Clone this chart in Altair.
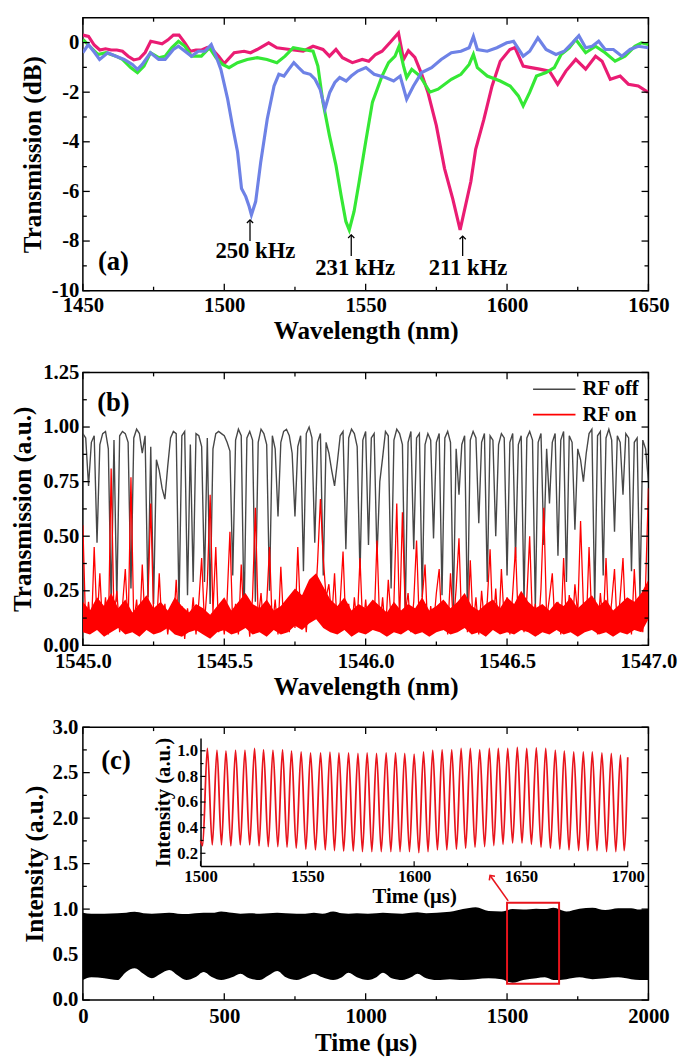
import altair as alt
import numpy as np
import pandas as pd

FONT = "Liberation Serif"
W, H = 574, 277

# ---------------- panel (a): transmission spectra ----------------
A_PINK = [(1450.0,0.30),(1452.0,0.25),(1454.0,-0.10),(1456.0,-0.30),(1458.0,-0.25),(1460.0,-0.30),
          (1462.0,-0.30),(1464.0,-0.35),(1466.0,-0.55),(1468.0,-0.70),(1470.0,-0.65),(1472.0,-0.40),
          (1474.0,0.05),(1476.0,0.00),(1478.0,-0.05),(1480.0,0.10),(1482.0,0.30),(1484.0,0.30),
          (1486.0,0.00),(1488.0,-0.35),(1490.0,-0.30),(1492.0,-0.30),(1494.0,-0.20),(1496.0,-0.30),
          (1498.0,-0.55),(1500.0,-0.85),(1503.5,-0.41),(1507.0,-0.35),(1509.3,-0.41),(1511.6,-0.28),
          (1515.7,-0.01),(1518.6,-0.21),(1523.2,-0.28),(1527.9,-0.35),(1531.4,-0.15),(1534.9,-0.28),
          (1537.2,-0.55),(1539.5,-0.28),(1541.8,-0.61),(1545.3,-0.81),(1548.8,-0.68),(1551.1,-0.75),
          (1553.5,-0.48),(1555.8,-0.35),(1558.7,0.01),(1561.6,0.39),(1563.4,-0.68),(1565.1,-0.33),
          (1567.4,-0.60),(1569.8,-1.27),(1572.0,-2.00),(1575.0,-3.35),(1577.9,-5.08),(1580.8,-6.30),
          (1583.4,-7.55),(1587.2,-5.60),(1588.9,-4.30),(1591.8,-3.10),(1594.7,-1.75),(1597.6,-0.75),
          (1601.0,-0.28),(1602.8,-0.20),(1605.7,-0.95),(1608.0,-1.00),(1611.5,-1.07),(1615.0,-1.15),
          (1617.9,-1.68),(1620.8,-1.15),(1624.3,-0.68),(1627.8,-1.07),(1631.3,-0.55),(1633.6,-0.75),
          (1636.5,-1.48),(1640.0,-1.35),(1642.9,-1.68),(1646.4,-1.75),(1649.9,-2.01)]
A_GREEN = [(1450.1,0.12),(1452.4,-0.15),(1455.3,-0.48),(1458.2,-0.41),(1461.7,-0.55),(1464.0,-0.68),
           (1466.9,-1.01),(1469.3,-1.21),(1471.6,-0.95),(1473.9,-0.41),(1476.8,-0.61),(1479.1,-0.55),
           (1481.4,-0.21),(1483.8,0.05),(1486.1,-0.15),(1488.4,-0.55),(1491.9,-0.55),(1494.8,-0.21),
           (1497.1,-0.61),(1499.4,-0.88),(1501.7,-1.01),(1504.7,-0.81),(1508.1,-0.68),(1511.6,-0.61),
           (1515.1,-0.68),(1518.6,-0.81),(1521.5,-0.55),(1524.4,-0.21),(1527.9,-0.28),(1531.4,-0.35),
           (1533.1,-0.95),(1534.9,-2.41),(1537.2,-3.75),(1539.5,-4.95),(1541.3,-6.15),(1543.0,-7.21),
           (1544.2,-7.55),(1545.9,-6.81),(1547.7,-5.61),(1550.0,-4.01),(1552.4,-2.40),(1555.8,-1.35),
           (1558.1,-0.81),(1560.4,-0.55),(1561.8,-0.15),(1563.4,-0.95),(1564.5,-1.41),(1566.3,-1.08),
           (1569.2,-1.35),(1572.7,-2.00),(1575.6,-1.88),(1580.3,-1.48),(1583.7,-1.28),(1586.6,-0.88),
           (1588.1,-0.48),(1589.5,-1.01),(1593.0,-1.35),(1597.6,-1.55),(1601.1,-1.75),(1604.0,-2.15),
           (1605.7,-2.55),(1608.0,-2.01),(1610.4,-1.35),(1613.8,-1.21),(1616.7,-1.01),(1619.1,-0.48),
           (1622.0,-0.21),(1624.3,0.12),(1627.8,-0.41),(1631.3,-0.15),(1634.7,-0.41),(1638.2,-0.75),
           (1641.7,-0.55),(1645.2,-0.15),(1647.5,-0.01),(1650.0,-0.08)]
A_BLUE = [(1450.0,-0.41),(1451.9,-0.08),(1454.2,-0.41),(1455.9,-0.68),(1458.8,-0.41),(1461.7,-0.55),
          (1464.6,-0.68),(1467.5,-0.88),(1469.3,-1.08),(1471.0,-0.88),(1473.9,-0.41),(1476.8,-0.68),
          (1479.1,-0.68),(1482.0,-0.28),(1483.8,-0.15),(1486.1,-0.35),(1488.4,-0.55),(1490.8,-0.35),
          (1493.1,-0.35),(1495.4,-0.08),(1497.1,-0.55),(1498.8,-1.08),(1501.2,-2.28),(1502.9,-3.35),
          (1504.7,-4.41),(1506.1,-5.88),(1507.6,-6.21),(1508.8,-6.61),(1509.6,-6.95),(1511.1,-6.41),
          (1512.9,-4.81),(1515.2,-3.08),(1517.6,-1.75),(1519.3,-1.28),(1521.1,-1.35),(1522.8,-1.08),
          (1524.6,-0.81),(1526.3,-1.01),(1528.1,-1.21),(1530.4,-1.28),(1532.1,-1.48),(1533.9,-1.88),
          (1535.6,-2.68),(1537.3,-2.01),(1539.1,-1.61),(1540.8,-1.41),(1543.1,-1.55),(1544.9,-1.35),
          (1547.2,-1.15),(1550.1,-1.01),(1553.0,-1.28),(1557.0,-1.41),(1559.9,-1.55),(1562.2,-1.35),
          (1564.5,-2.28),(1566.9,-1.75),(1569.8,-1.21),(1573.3,-1.01),(1576.7,-0.68),(1580.3,-0.41),
          (1583.7,-0.35),(1586.6,-0.21),(1588.1,0.25),(1589.5,-0.28),(1593.0,-0.35),(1596.4,-0.21),
          (1599.9,-0.01),(1602.3,0.05),(1605.7,-0.55),(1608.0,-0.35),(1610.9,0.19),(1613.8,-0.28),
          (1617.3,-0.48),(1620.2,-0.35),(1623.1,-0.01),(1625.4,0.28),(1627.8,-0.21),(1630.1,-0.15),
          (1632.4,0.05),(1634.7,-0.28),(1637.6,-0.28),(1640.6,-0.55),(1643.5,-0.28),(1646.4,-0.15),
          (1650.0,-0.21)]
A_ARROW_X = [1509.1, 1544.9, 1584.3]
A_ARROW_TIP = [-7.15, -7.75, -7.80]
A_ARROW_TAIL = [-8.00, -8.60, -8.60]
A_LABEL_X = [1511.0, 1546.3, 1586.2]
A_LABEL_Y = [-8.41, -9.08, -9.08]
A_LABELS = ["250 kHz", "231 kHz", "211 kHz"]
A_XMAJ = [1450, 1500, 1550, 1600, 1650]
A_XMIN = [1475, 1525, 1575, 1625]
A_YMAJ = [-10, -8, -6, -4, -2, 0]
A_YMIN = [-9, -7, -5, -3, -1]

# ---------------- panel (b): RF off / RF on ----------------
B_START, B_STEP = 1545.0, 0.01   # sampling grid of the traces
B_OFF = [0.97, 0.95, 0.73, 0.93, 0.96, 0.47, 0.92, 0.97, 0.98, 0.90,
         0.19, 0.94, 0.20, 0.96, 0.98, 0.97, 0.93, 0.26, 0.95, 0.99,
         0.97, 0.88, 0.96, 0.22, 0.91, 0.19, 0.85, 0.80, 0.72, 0.67,
         0.82, 0.95, 0.98, 0.97, 0.17, 0.96, 0.98, 0.23, 0.92, 0.29,
         0.97, 0.96, 0.91, 0.29, 0.95, 0.19, 0.90, 0.97, 0.98, 0.97,
         0.96, 0.93, 0.89, 0.32, 0.94, 0.99, 0.96, 0.13, 0.95, 0.98,
         0.94, 0.20, 0.93, 0.99, 0.97, 0.92, 0.25, 0.96, 0.90, 0.59,
         0.93, 0.98, 0.99, 0.96, 0.88, 0.59, 0.91, 0.96, 0.34, 0.97,
         1.00, 0.95, 0.47, 0.93, 0.97, 0.32, 0.93, 0.88, 0.80, 0.73,
         0.84, 0.96, 0.98, 0.44, 0.95, 0.99, 0.97, 0.91, 0.32, 0.94,
         0.98, 0.46, 0.95, 0.97, 0.40, 0.75, 0.86, 0.98, 0.96, 0.26,
         0.94, 0.99, 0.97, 0.92, 0.14, 0.93, 0.98, 0.44, 0.95, 0.97,
         0.22, 0.92, 0.97, 0.94, 0.49, 0.93, 0.97, 0.23, 0.95, 0.98,
         0.93, 0.16, 0.90, 0.69, 0.92, 0.96, 0.13, 0.94, 0.98, 0.95,
         0.56, 0.93, 0.97, 0.29, 0.96, 0.94, 0.50, 0.92, 0.97, 0.95,
         0.32, 0.93, 0.97, 0.40, 0.92, 0.96, 0.20, 0.95, 0.98, 0.94,
         0.17, 0.93, 0.97, 0.46, 0.90, 0.65, 0.93, 0.97, 0.41, 0.94,
         0.98, 0.29, 0.96, 0.93, 0.53, 0.90, 0.85, 0.75, 0.88, 0.97,
         0.99, 0.19, 0.96, 0.98, 0.32, 0.95, 0.99, 0.94, 0.52, 0.96,
         0.93, 0.69, 0.97, 0.95, 0.34, 0.93, 0.95, 0.22, 0.94, 0.90,
         0.75]
B_ON = [0.55, 0.08, 0.20, 0.06, 0.45, 0.10, 0.33, 0.07, 0.22, 0.05,
        0.81, 0.12, 0.25, 0.06, 0.18, 0.35, 0.08, 0.77, 0.10, 0.21,
        0.05, 0.37, 0.09, 0.20, 0.65, 0.14, 0.06, 0.33, 0.07, 0.19,
        0.05, 0.16, 0.08, 0.30, 0.06, 0.18, 0.03, 0.17, 0.07, 0.22,
        0.05, 0.20, 0.40, 0.10, 0.28, 0.69, 0.15, 0.45, 0.06, 0.18,
        0.05, 0.21, 0.52, 0.08, 0.19, 0.05, 0.37, 0.09, 0.20, 0.04,
        0.22, 0.63, 0.12, 0.24, 0.07, 0.19, 0.45, 0.08, 0.21, 0.05,
        0.36, 0.10, 0.18, 0.06, 0.23, 0.08, 0.45, 0.12, 0.20, 0.06,
        0.25, 0.30, 0.15, 0.38, 0.67, 0.40, 0.22, 0.28, 0.12, 0.33,
        0.06, 0.20, 0.43, 0.08, 0.19, 0.05, 0.22, 0.09, 0.40, 0.07,
        0.21, 0.06, 0.18, 0.10, 0.48, 0.08, 0.22, 0.05, 0.30, 0.12,
        0.20, 0.65, 0.10, 0.61, 0.15, 0.24, 0.06, 0.20, 0.48, 0.08,
        0.22, 0.37, 0.05, 0.18, 0.09, 0.24, 0.35, 0.07, 0.20, 0.05,
        0.33, 0.10, 0.26, 0.49, 0.08, 0.21, 0.06, 0.39, 0.09, 0.22,
        0.05, 0.25, 0.10, 0.20, 0.44, 0.08, 0.26, 0.06, 0.35, 0.11,
        0.22, 0.05, 0.24, 0.45, 0.09, 0.20, 0.06, 0.22, 0.50, 0.10,
        0.19, 0.05, 0.26, 0.63, 0.12, 0.22, 0.33, 0.07, 0.20, 0.05,
        0.40, 0.09, 0.23, 0.06, 0.28, 0.14, 0.57, 0.18, 0.08, 0.45,
        0.10, 0.21, 0.05, 0.24, 0.09, 0.40, 0.07, 0.20, 0.35, 0.06,
        0.22, 0.40, 0.08, 0.19, 0.05, 0.35, 0.10, 0.21, 0.06, 0.28,
        0.72]
# dense noise floor of the RF-on trace, read every 0.025 nm (lower / upper edge)
B_BAND_STEP = 0.025
B_BAND_LO = [0.06, 0.05, 0.07, 0.04, 0.06, 0.08, 0.05, 0.06, 0.04, 0.07,
             0.05, 0.06, 0.08, 0.05, 0.04, 0.06, 0.07, 0.05, 0.03, 0.06,
             0.07, 0.05, 0.06, 0.08, 0.05, 0.06, 0.04, 0.07, 0.05, 0.06,
             0.09, 0.07, 0.10, 0.12, 0.08, 0.06, 0.05, 0.07, 0.04, 0.06,
             0.05, 0.07, 0.06, 0.04, 0.06, 0.05, 0.07, 0.05, 0.06, 0.04,
             0.06, 0.07, 0.05, 0.06, 0.08, 0.05, 0.06, 0.04, 0.07, 0.05,
             0.06, 0.05, 0.07, 0.06, 0.04, 0.06, 0.05, 0.07, 0.05, 0.06,
             0.04, 0.06, 0.07, 0.05, 0.06, 0.04, 0.06, 0.05, 0.07, 0.06,
             0.12]
B_BAND_HI = [0.20, 0.16, 0.22, 0.18, 0.24, 0.17, 0.21, 0.15, 0.19, 0.23,
             0.17, 0.20, 0.16, 0.22, 0.18, 0.15, 0.19, 0.17, 0.14, 0.18,
             0.22, 0.16, 0.20, 0.24, 0.19, 0.17, 0.21, 0.16, 0.18, 0.22,
             0.26, 0.23, 0.30, 0.33, 0.27, 0.21, 0.18, 0.22, 0.16, 0.19,
             0.17, 0.21, 0.18, 0.15, 0.20, 0.16, 0.19, 0.17, 0.22, 0.16,
             0.18, 0.21, 0.17, 0.20, 0.24, 0.18, 0.16, 0.19, 0.21, 0.17,
             0.22, 0.19, 0.25, 0.20, 0.17, 0.19, 0.16, 0.20, 0.18, 0.22,
             0.17, 0.20, 0.23, 0.18, 0.21, 0.16, 0.19, 0.22, 0.20, 0.24,
             0.30]
B_LEG_X = [1546.592, 1546.742]
B_LEG_TEXT_X = 1546.767
B_LEG_Y = [1.173, 1.057]
B_LEG_LABELS = ["RF off", "RF on"]
B_XMAJ = [1545.0, 1545.5, 1546.0, 1546.5, 1547.0]
B_XMIN = [1545.25, 1545.75, 1546.25, 1546.75]
B_YMAJ = [0.0, 0.25, 0.5, 0.75, 1.0, 1.25]
B_YMIN = [0.125, 0.375, 0.625, 0.875, 1.125]

# ---------------- panel (c): time trace + inset ----------------
C_T = [0, 30, 76, 122, 153, 183, 214, 244, 275, 305, 336, 366, 397, 427, 458, 489, 527, 557, 588,
       626, 656, 687, 718, 756, 786, 817, 847, 885, 916, 939, 969, 1008, 1038, 1061, 1092, 1130,
       1160, 1183, 1214, 1252, 1298, 1344, 1389, 1435, 1481, 1519, 1557, 1603, 1634, 1664, 1710,
       1756, 1802, 1847, 1893, 1939, 1969, 2000]
C_LO = [0.22, 0.25, 0.24, 0.22, 0.31, 0.35, 0.29, 0.24, 0.29, 0.33, 0.27, 0.22, 0.25, 0.31, 0.25,
        0.22, 0.25, 0.29, 0.24, 0.22, 0.27, 0.32, 0.25, 0.22, 0.25, 0.29, 0.25, 0.22, 0.25, 0.30,
        0.25, 0.22, 0.25, 0.30, 0.24, 0.22, 0.25, 0.29, 0.24, 0.22, 0.23, 0.22, 0.23, 0.24, 0.23,
        0.19, 0.22, 0.24, 0.25, 0.22, 0.23, 0.25, 0.23, 0.24, 0.25, 0.23, 0.22, 0.22]
C_HI = [0.96, 0.95, 0.95, 0.955, 0.96, 0.97, 0.955, 0.95, 0.955, 0.96, 0.95, 0.945, 0.955, 0.96,
        0.96, 0.975, 0.96, 0.95, 0.955, 0.95, 0.955, 0.96, 0.955, 0.95, 0.95, 0.96, 0.95, 0.975,
        0.955, 0.95, 0.955, 0.95, 0.955, 0.96, 0.955, 0.95, 0.96, 0.965, 0.955, 0.96, 0.97, 1.0,
        1.02, 0.98, 0.975, 1.0, 0.995, 1.005, 1.0, 1.015, 0.975, 1.005, 1.015, 0.99, 1.01, 1.01,
        0.995, 1.0]
C_BOX_T = [1500, 1684]
C_BOX_V = [0.18, 1.07]
C_ARROW_T = [1504, 1440]
C_ARROW_V = [1.09, 1.37]
C_XMAJ = [0, 500, 1000, 1500, 2000]
C_XMIN = [250, 750, 1250, 1750]
C_YMAJ = [0.0, 0.5, 1.0, 1.5, 2.0, 2.5, 3.0]
C_YMIN = [0.25, 0.75, 1.25, 1.75, 2.25, 2.75]

I_START = (1500.0, 0.30)
I_END = (1700.0, 0.95)
I_PEAK_T = [1503.2, 1507.7, 1511.9, 1516.4, 1520.8, 1525.3, 1529.5, 1533.9, 1538.4, 1542.6, 1547.1,
            1551.5, 1556.2, 1560.6, 1564.8, 1569.3, 1573.7, 1578.0, 1582.4, 1586.9, 1591.3, 1595.6,
            1600.0, 1604.4, 1608.7, 1613.1, 1617.6, 1622.0, 1626.3, 1630.7, 1635.2, 1639.4, 1643.8,
            1648.3, 1652.7, 1657.2, 1661.6, 1666.1, 1670.3, 1674.7, 1679.2, 1683.4, 1687.9, 1692.3,
            1696.6]
I_PEAK_V = [1.018, 1.005, 1.0, 1.005, 1.005, 1.018, 1.01, 1.005, 1.01, 1.0, 0.992, 0.984, 0.984, 0.99,
            0.984, 0.984, 0.979, 0.984, 0.979, 0.984, 0.984, 0.979, 0.974, 0.992, 1.005, 1.01, 1.01,
            1.018, 1.018, 1.01, 1.018, 1.018, 1.018, 1.026, 1.018, 1.023, 1.018, 1.005, 1.0, 0.992,
            0.992, 0.992, 0.984, 0.979, 0.966]
I_TROUGH_T = [1501.0, 1505.5, 1509.8, 1514.2, 1518.6, 1523.0, 1527.4, 1531.7, 1536.2, 1540.5, 1544.8,
              1549.3, 1553.8, 1558.4, 1562.7, 1567.0, 1571.5, 1575.8, 1580.2, 1584.6, 1589.1, 1593.4,
              1597.8, 1602.2, 1606.5, 1610.9, 1615.3, 1619.8, 1624.1, 1628.5, 1633.0, 1637.3, 1641.6,
              1646.1, 1650.5, 1654.9, 1659.4, 1663.8, 1668.2, 1672.5, 1677.0, 1681.3, 1685.6, 1690.1,
              1694.4, 1698.3]
I_TROUGH_V = [0.26, 0.265, 0.265, 0.257, 0.265, 0.265, 0.257, 0.252, 0.252, 0.247, 0.239, 0.231, 0.226,
              0.226, 0.221, 0.216, 0.216, 0.213, 0.213, 0.213, 0.213, 0.213, 0.213, 0.205, 0.213, 0.226,
              0.226, 0.231, 0.239, 0.247, 0.252, 0.26, 0.27, 0.28, 0.28, 0.27, 0.247, 0.239, 0.231,
              0.226, 0.221, 0.221, 0.221, 0.213, 0.213, 0.22]
I_XMAJ = [1500, 1550, 1600, 1650, 1700]
I_XMIN = [1525, 1575, 1625, 1675]
I_YMAJ = [0.2, 0.4, 0.6, 0.8, 1.0]
I_YMIN = [0.3, 0.5, 0.7, 0.9]

# inset placement inside panel (c), in pixels of the panel
I_LEFT, I_RIGHT, I_TOP, I_BOTTOM = 119.4, 553.0, 11.0, 141.0

PINK, GREEN, BLUE = "#EA1C73", "#35E835", "#6E82E6"
GRAY, RED, RED2 = "#474747", "#FF0000", "#E8141C"
CHEVRON = "M-1,1L0,0L1,1"
TICK_MAJ, TICK_MIN = 7, 4
LBL, TTL = 21, 25.5


def tick_layers(X, Y, xmaj, xmin, ymaj, ymin, w=W, h=H):
    out = []
    for vals, L in ((xmaj, TICK_MAJ), (xmin, TICK_MIN)):
        d = pd.DataFrame({"v": vals})
        m = alt.Chart(d).mark_rule(color="black", strokeWidth=1.3)
        out.append(m.encode(x=X("v"), y=alt.value(h - L), y2=alt.value(h)))
        out.append(m.encode(x=X("v"), y=alt.value(0), y2=alt.value(L)))
    for vals, L in ((ymaj, TICK_MAJ), (ymin, TICK_MIN)):
        d = pd.DataFrame({"v": vals})
        m = alt.Chart(d).mark_rule(color="black", strokeWidth=1.3)
        out.append(m.encode(y=Y("v"), x=alt.value(0), x2=alt.value(L)))
        out.append(m.encode(y=Y("v"), x=alt.value(w - L), x2=alt.value(w)))
    return out


def text_mark(size, align="center"):
    return dict(font=FONT, fontWeight="bold", fontSize=size, color="black", align=align, baseline="middle")


# ---------- panel (a) ----------
sxA = alt.Scale(domain=[1450, 1650], nice=False, zero=False)
syA = alt.Scale(domain=[-10, 1], nice=False, zero=False)
axXA = alt.Axis(title="Wavelength (nm)", values=A_XMAJ, format="d", labelFontSize=LBL, labelPadding=4,
                labelFlush=False, labelOverlap=False, titleFontSize=TTL, titleY=41, titleBaseline="middle")
axYA = alt.Axis(title="Transmission (dB)", values=A_YMAJ, labelExpr="'' + datum.value", labelFontSize=LBL,
                labelPadding=4, labelOverlap=False, titleFontSize=TTL, titleX=-51, titleBaseline="middle")
XA = lambda f: alt.X(f"{f}:Q", scale=sxA, axis=axXA)
YA = lambda f: alt.Y(f"{f}:Q", scale=syA, axis=axYA)

a_layers = []
for pts, col in ((A_PINK, PINK), (A_GREEN, GREEN), (A_BLUE, BLUE)):
    d = pd.DataFrame(pts, columns=["x", "y"])
    a_layers.append(alt.Chart(d).mark_line(color=col, strokeWidth=3.2, clip=True).encode(x=XA("x"), y=YA("y")))
d_arr = pd.DataFrame({"x": A_ARROW_X, "tip": A_ARROW_TIP, "tail": A_ARROW_TAIL})
a_layers.append(alt.Chart(d_arr).mark_rule(color="black", strokeWidth=1.3).encode(
    x=XA("x"), y=YA("tip"), y2=alt.Y2("tail")))
a_layers.append(alt.Chart(d_arr).mark_point(shape=CHEVRON, size=40, filled=False, color="black",
                                            strokeWidth=1.3, opacity=1).encode(x=XA("x"), y=YA("tip")))
d_lab = pd.DataFrame({"x": A_LABEL_X, "y": A_LABEL_Y, "t": A_LABELS})
a_layers.append(alt.Chart(d_lab).mark_text(**text_mark(23)).encode(x=XA("x"), y=YA("y"), text="t:N"))
d_pl = pd.DataFrame({"x": [1460.8], "y": [-8.85], "t": ["(a)"]})
a_layers.append(alt.Chart(d_pl).mark_text(**text_mark(27)).encode(x=XA("x"), y=YA("y"), text="t:N"))
a_layers += tick_layers(XA, YA, A_XMAJ, A_XMIN, A_YMAJ, A_YMIN)
panel_a = alt.layer(*a_layers).properties(width=W, height=H)

# ---------- panel (b) ----------
sxB = alt.Scale(domain=[1545, 1547], nice=False, zero=False)
syB = alt.Scale(domain=[0, 1.25], nice=False, zero=False)
axXB = alt.Axis(title="Wavelength (nm)", values=B_XMAJ, format=".1f", labelFontSize=LBL, labelPadding=5,
                labelFlush=False, labelOverlap=False, titleFontSize=TTL, titleY=42, titleBaseline="middle")
axYB = alt.Axis(title="Transmission (a.u.)", values=B_YMAJ, format=".2f", labelFontSize=LBL,
                labelPadding=4, labelOverlap=False, titleFontSize=TTL, titleX=-61, titleBaseline="middle")
XB = lambda f: alt.X(f"{f}:Q", scale=sxB, axis=axXB)
YB = lambda f: alt.Y(f"{f}:Q", scale=syB, axis=axYB)

wl = np.round(B_START + B_STEP * np.arange(len(B_OFF)), 4)
wl_band = np.round(B_START + B_BAND_STEP * np.arange(len(B_BAND_LO)), 4)
d_off = pd.DataFrame({"x": wl, "y": B_OFF})
d_on = pd.DataFrame({"x": wl, "y": B_ON})
d_band_b = pd.DataFrame({"x": wl_band, "lo": B_BAND_LO, "hi": B_BAND_HI})
b_layers = [
    alt.Chart(d_off).mark_line(color=GRAY, strokeWidth=1.4, clip=True).encode(x=XB("x"), y=YB("y")),
    alt.Chart(d_band_b).mark_area(color=RED, opacity=1, clip=True).encode(
        x=XB("x"), y=YB("lo"), y2=alt.Y2("hi")),
    alt.Chart(d_on).mark_line(color=RED, strokeWidth=1.3, clip=True).encode(x=XB("x"), y=YB("y")),
]
d_leg = pd.DataFrame({"x": [B_LEG_X[0]] * 2, "x2": [B_LEG_X[1]] * 2, "y": B_LEG_Y,
                      "tx": [B_LEG_TEXT_X] * 2, "t": B_LEG_LABELS, "c": [GRAY, RED]})
b_layers.append(alt.Chart(d_leg).mark_rule(strokeWidth=1.6).encode(
    x=XB("x"), x2=alt.X2("x2"), y=YB("y"), color=alt.Color("c:N", scale=None)))
b_layers.append(alt.Chart(d_leg).mark_text(**text_mark(21, "left")).encode(x=XB("tx"), y=YB("y"), text="t:N"))
d_pl = pd.DataFrame({"x": [1545.108], "y": [1.11], "t": ["(b)"]})
b_layers.append(alt.Chart(d_pl).mark_text(**text_mark(27)).encode(x=XB("x"), y=YB("y"), text="t:N"))
b_layers += tick_layers(XB, YB, B_XMAJ, B_XMIN, B_YMAJ, B_YMIN)
panel_b = alt.layer(*b_layers).properties(width=W, height=H)

# ---------- panel (c) ----------
sxC = alt.Scale(domain=[0, 2000], nice=False, zero=False)
syC = alt.Scale(domain=[0, 3], nice=False, zero=False)
axXC = alt.Axis(title="Time (μs)", values=C_XMAJ, format="d", labelFontSize=LBL, labelPadding=6,
                labelFlush=False, labelOverlap=False, titleFontSize=TTL, titleY=43, titleBaseline="middle")
axYC = alt.Axis(title="Intensity (a.u.)", values=C_YMAJ, format=".1f", labelFontSize=LBL,
                labelPadding=5, labelOverlap=False, titleFontSize=TTL, titleX=-48.5, titleBaseline="middle")
XC = lambda f: alt.X(f"{f}:Q", scale=sxC, axis=axXC)
YC = lambda f: alt.Y(f"{f}:Q", scale=syC, axis=axYC)

d_band = pd.DataFrame({"x": C_T, "lo": C_LO, "hi": C_HI})
c_layers = [alt.Chart(d_band).mark_area(color="black", opacity=1, interpolate="monotone").encode(
    x=XC("x"), y=YC("lo"), y2=alt.Y2("hi"))]
d_box = pd.DataFrame({"x": [C_BOX_T[0]], "x2": [C_BOX_T[1]], "y": [C_BOX_V[0]], "y2": [C_BOX_V[1]]})
c_layers.append(alt.Chart(d_box).mark_rect(fillOpacity=0, stroke=RED2, strokeWidth=2).encode(
    x=XC("x"), x2=alt.X2("x2"), y=YC("y"), y2=alt.Y2("y2")))
d_ca = pd.DataFrame({"x": [C_ARROW_T[0]], "x2": [C_ARROW_T[1]], "y": [C_ARROW_V[0]], "y2": [C_ARROW_V[1]]})
c_layers.append(alt.Chart(d_ca).mark_rule(color=RED2, strokeWidth=1.6).encode(
    x=XC("x"), x2=alt.X2("x2"), y=YC("y"), y2=alt.Y2("y2")))
c_layers.append(alt.Chart(d_ca).mark_point(shape=CHEVRON, size=50, filled=False, color=RED2, strokeWidth=1.6,
                                           opacity=1, angle=324).encode(x=XC("x2"), y=YC("y2")))
d_pl = pd.DataFrame({"x": [117], "y": [2.63], "t": ["(c)"]})
c_layers.append(alt.Chart(d_pl).mark_text(**text_mark(27)).encode(x=XC("x"), y=YC("y"), text="t:N"))
c_layers += tick_layers(XC, YC, C_XMAJ, C_XMIN, C_YMAJ, C_YMIN)
main_c = alt.layer(*c_layers)

sxI = alt.Scale(domain=[1500, 1700], range=[I_LEFT, I_RIGHT], nice=False, zero=False)
syI = alt.Scale(domain=[0.1, 1.1], range=[I_BOTTOM, I_TOP], nice=False, zero=False)
axXI = alt.Axis(title="Time (μs)", values=I_XMAJ, format="d", orient="bottom", offset=-(H - I_BOTTOM),
                domain=True, domainColor="black", domainWidth=1.5, ticks=False, labelFontSize=17,
                labelPadding=3, labelFlush=False, labelOverlap=False, titleFontSize=21, titleY=31,
                titleBaseline="middle")
axYI = alt.Axis(title="Intensity (a.u.)", values=I_YMAJ, format=".1f", orient="left", offset=-I_LEFT,
                domain=True, domainColor="black", domainWidth=1.5, ticks=False, labelFontSize=17,
                labelPadding=3, labelOverlap=False, titleFontSize=21, titleX=-37.5, titleBaseline="middle")
XI = lambda f: alt.X(f"{f}:Q", scale=sxI, axis=axXI)
YI = lambda f: alt.Y(f"{f}:Q", scale=syI, axis=axYI)

inset_pts = [I_START] + list(zip(I_PEAK_T, I_PEAK_V)) + list(zip(I_TROUGH_T, I_TROUGH_V)) + [I_END]
d_inset = pd.DataFrame(sorted(inset_pts), columns=["x", "y"])
i_layers = [alt.Chart(d_inset).mark_line(color=RED2, strokeWidth=1.8, interpolate="monotone").encode(
    x=XI("x"), y=YI("y"))]
for vals, L in ((I_XMAJ, 5), (I_XMIN, 3)):
    d = pd.DataFrame({"v": vals})
    i_layers.append(alt.Chart(d).mark_rule(color="black", strokeWidth=1.2).encode(
        x=XI("v"), y=alt.value(I_BOTTOM - L), y2=alt.value(I_BOTTOM)))
for vals, L in ((I_YMAJ, 5), (I_YMIN, 3)):
    d = pd.DataFrame({"v": vals})
    i_layers.append(alt.Chart(d).mark_rule(color="black", strokeWidth=1.2).encode(
        y=YI("v"), x=alt.value(I_LEFT), x2=alt.value(I_LEFT + L)))
inset_c = alt.layer(*i_layers)

panel_c = alt.layer(main_c, inset_c).resolve_scale(x="independent", y="independent").properties(width=W, height=H)

chart = alt.vconcat(panel_a, panel_b, panel_c, spacing=83, bounds="flush").properties(
    padding={"left": 2, "top": 0, "right": 0, "bottom": 0}
).configure_view(stroke="black", strokeWidth=1.5).configure_axis(
    grid=False, domain=False, ticks=False, labelFont=FONT, titleFont=FONT,
    labelFontWeight="bold", titleFontWeight="bold", labelColor="black", titleColor="black"
)

chart.save("out.html", embed_options={"renderer": "svg", "actions": False})
